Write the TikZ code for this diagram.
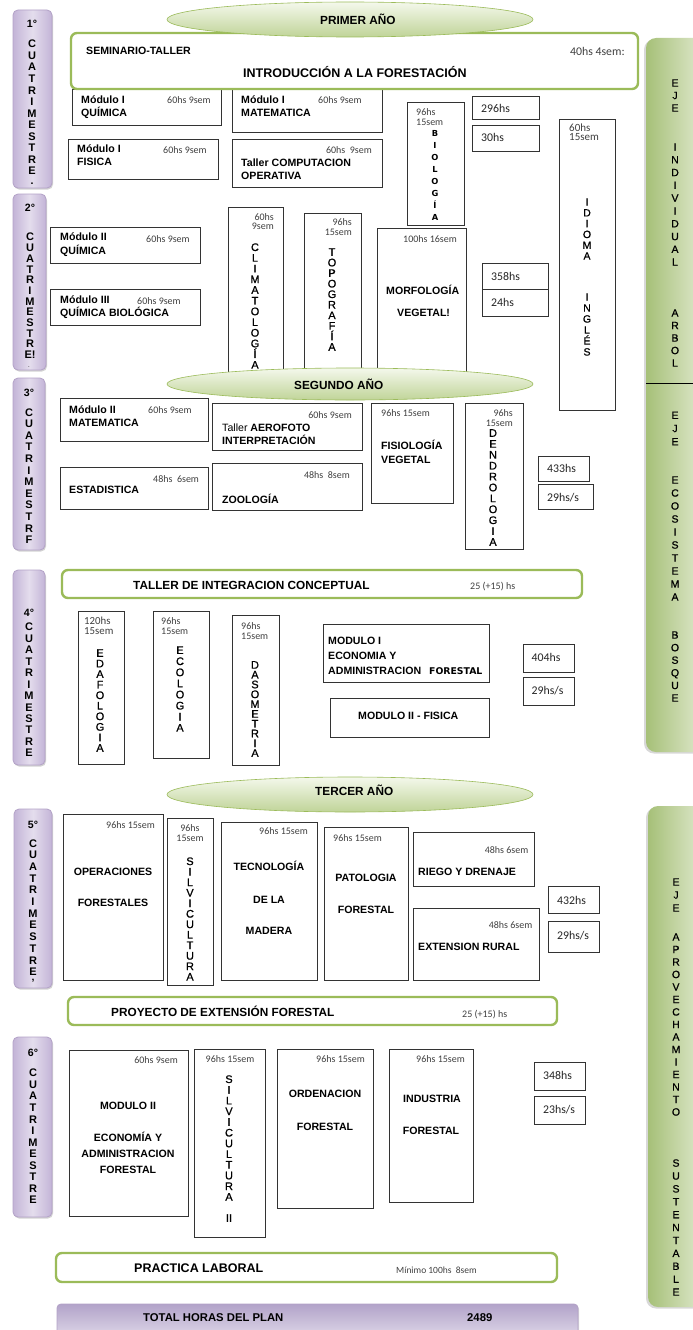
\documentclass[tikz,border=0pt]{standalone}
\usepackage{fontspec}
\setmainfont{Liberation Sans}
\newfontfamily\calfont{Carlito}
\newfontfamily\dvfont{DejaVu Sans}
\newfontfamily\medf[FakeBold=0.8]{Liberation Sans}
\usetikzlibrary{shadows}
\definecolor{boxc}{HTML}{333333}
\definecolor{grnB}{HTML}{9BBB59}
\definecolor{ellT}{HTML}{F4F8EC}
\definecolor{ellB}{HTML}{C0D498}
\definecolor{purB}{HTML}{B3A2C7}
\definecolor{purD}{HTML}{C3B4D7}
\definecolor{purL}{HTML}{E4DDED}
\definecolor{ejeD}{HTML}{A6C078}
\definecolor{ejeL}{HTML}{E6EDD7}
\definecolor{totT}{HTML}{B2A3C9}
\definecolor{totB}{HTML}{E9E4F0}
\definecolor{smc}{HTML}{404040}
\definecolor{hrc}{HTML}{262626}
\newcommand\fs[2]{\fontsize{#1}{#2}\selectfont}
\newcommand\T[5][]{\node[#1] (#2) at (#3,#4) {#5};}
\newcommand\VS[5]{\node[vs,font={#4\lineskiplimit=-30pt}] (#1) at (#2,#3) {#5};}
\newcommand\BX[5]{\draw[box] (#2,#3) rectangle (#4,#5) coordinate (#1);}
\begin{document}
\begin{tikzpicture}[x=1pt,y=-1pt,
  box/.style={draw=boxc, line width=0.8pt, fill=white},
  gbox/.style={draw=grnB, line width=2.4pt, rounded corners=6pt, fill=white},
  ell/.style={draw=grnB, line width=0.6pt, top color=ellT, bottom color=ellB},
  pbar/.style={draw=purB, line width=0.8pt, rounded corners=5pt, left color=purD, right color=purD, middle color=purL,
     drop shadow={opacity=0.35, shadow xshift=1pt, shadow yshift=-1.5pt}},
  ebar/.style={rounded corners=10pt, left color=ejeD, right color=ejeL,
     drop shadow={opacity=0.3, shadow xshift=-2pt, shadow yshift=-1.5pt}},
  lb/.style={font=\bfseries\fs{10.6}{12}, inner sep=0pt, text height=7.6pt, text depth=0pt, anchor=west},
  tt/.style={font=\bfseries\fs{11.8}{14}, inner sep=0pt, text height=8.45pt, text depth=0pt, anchor=west},
  tb/.style={font=\bfseries\fs{12.5}{14}, inner sep=0pt, text height=8.95pt, text depth=0pt, anchor=west},
  sm/.style={font=\calfont\fs{10}{12}, text=smc, inner sep=0pt, text height=6.3pt, text depth=0pt, anchor=west},
  hr/.style={font=\calfont\fs{11.8}{13}, text=hrc, inner sep=0pt, text height=7.4pt, text depth=0pt, anchor=west},
  vs/.style={align=center, inner sep=0pt, anchor=center}]
\useasboundingbox (0,0) rectangle (693,1330);
\fill[white] (0,0) rectangle (693,1330);

% ---- right axis bars
\path[ebar] (646,38) rectangle (710,752);
\draw[line width=0.8pt] (646,383) -- (693,383);
\path[ebar] (648,806) rectangle (710,1307);

% ---- left purple bars
\path[pbar] (13,10) rectangle (52,188);
\path[pbar] (13,194) rectangle (46,370);
\path[pbar] (13,378) rectangle (45,550);
\path[pbar] (13,570) rectangle (45,765);
\path[pbar] (14,809) rectangle (52,988);
\path[pbar] (13,1037) rectangle (52,1217);

% ---- total bar
\path[draw=purB, line width=0.8pt, rounded corners=4pt, top color=totT, bottom color=totB,
  drop shadow={opacity=0.3, shadow xshift=1pt, shadow yshift=-1pt}] (57,1345) rectangle (578,1304);

% ---- subject boxes
\BX{q1}{72}{89}{221}{125}
\BX{m1}{232}{89}{382}{132}
\BX{f1}{68}{139}{218}{179}
\BX{c1}{232}{139}{382}{187}
\BX{bio}{407}{102}{464}{225}
\BX{h296}{472}{96}{539}{119}
\BX{h30}{472}{125}{539}{151}
\BX{idio}{559}{119}{615}{410}
\BX{q2}{50}{227}{200}{263}
\BX{q3}{50}{289}{200}{325}
\BX{clim}{228}{207}{283}{378}
\BX{topo}{304}{213}{361}{378}
\BX{morf}{377}{228}{466}{378}
\BX{h358}{482}{263}{548}{289}
\BX{h24}{482}{289}{548}{316}
\BX{m2}{60}{398}{208}{441}
\BX{aero}{212}{403}{362}{450}
\BX{fisio}{371}{403}{453}{503}
\BX{dend}{465}{403}{523}{549}
\BX{est}{60}{467}{208}{509}
\BX{zoo}{212}{463}{362}{510}
\BX{h433}{538}{456}{589}{481}
\BX{h29a}{538}{484}{593}{509}
\BX{edaf}{78}{611}{124}{764}
\BX{ecol}{153}{611}{209}{758}
\BX{daso}{232}{615}{279}{765}
\BX{mod1}{323}{624}{489}{682}
\BX{mod2f}{330}{698}{489}{737}
\BX{h404}{523}{644}{574}{672}
\BX{h29b}{523}{677}{574}{705}
\BX{oper}{63}{814}{163}{980}
\BX{silv1}{167}{818}{213}{985}
\BX{tecn}{221}{822}{317}{980}
\BX{pato}{324}{827}{408}{980}
\BX{riego}{413}{832}{534}{886}
\BX{ext}{413}{908}{539}{980}
\BX{h432}{548}{886}{599}{913}
\BX{h29c}{548}{921}{599}{952}
\BX{mod2e}{69}{1050}{188}{1216}
\BX{silv2}{194}{1049}{265}{1237}
\BX{orden}{277}{1049}{373}{1208}
\BX{indus}{389}{1049}{473}{1202}
\BX{h348}{534}{1062}{585}{1090}
\BX{h23}{534}{1096}{585}{1124}

% ---- green boxes
\draw[gbox] (71,33) rectangle (638,89);
\draw[gbox] (62,570) rectangle (582,598);
\draw[gbox] (68,997) rectangle (557,1025);
\draw[gbox] (56,1253) rectangle (557,1282);

% ---- year ellipses
\path[ell] (350,19.5) ellipse [x radius=183pt, y radius=17.5pt];
\path[ell] (350,384) ellipse [x radius=183pt, y radius=16pt];
\path[ell] (350,794.5) ellipse [x radius=183pt, y radius=17.5pt];

% ================= TEXT =================
\T[tt]{y1}{320}{20}{PRIMER AÑO}
\T[tt]{y2}{294}{385}{SEGUNDO AÑO}
\T[tt]{y3}{315}{791}{TERCER AÑO}

% axis bars text
\VS{ejeA}{675}{95.5}{\medf\fs{10.5}{12.5}}{E\\J\\E}
\VS{ejeB}{675}{204.5}{\medf\fs{10.5}{12.8}}{I\\N\\D\\I\\V\\I\\D\\U\\A\\L}
\VS{ejeC}{675}{338}{\medf\fs{10.5}{12.5}}{A\\R\\B\\O\\L}
\VS{ejeD}{675}{428.5}{\medf\fs{10.5}{13.2}}{E\\J\\E}
\VS{ejeE}{675}{538.5}{\medf\fs{10.5}{13}}{E\\C\\O\\S\\I\\S\\T\\E\\M\\A}
\VS{ejeF}{675}{666.5}{\medf\fs{10.5}{12.6}}{B\\O\\S\\Q\\U\\E}
\VS{ejeG}{676}{895}{\medf\fs{10.5}{13}}{E\\J\\E}
\VS{ejeH}{676}{1024.5}{\medf\fs{10.5}{12.5}}{A\\P\\R\\O\\V\\E\\C\\H\\A\\M\\I\\E\\N\\T\\O}
\VS{ejeI}{676}{1227.5}{\medf\fs{10.5}{12.9}}{S\\U\\S\\T\\E\\N\\T\\A\\B\\L\\E}

% cuatrimestre bars
\T[lb,anchor=center]{n1}{32}{24}{1°}
\VS{c1s}{32}{107.5}{\bfseries\fs{11}{11.55}}{C\\U\\A\\T\\R\\I\\M\\E\\S\\T\\R\\E}
\T[lb,anchor=center]{c1d}{32}{181}{.}
\T[lb,anchor=center]{n2}{30}{208}{2°}
\VS{c2s}{30}{296}{\bfseries\fs{11}{10.7}}{C\\U\\A\\T\\R\\I\\M\\E\\S\\T\\R\\E!}
\T[lb,anchor=center,font=\fs{6}{6}]{c2d}{29}{364}{.}
\T[lb,anchor=center]{n3}{29}{393}{3°}
\VS{c3s}{29}{476}{\bfseries\fs{11}{11.6}}{C\\U\\A\\T\\R\\I\\M\\E\\S\\T\\R\\F}
\T[lb,anchor=center]{n4}{29}{613}{4°}
\VS{c4s}{29}{690}{\bfseries\fs{11}{11.45}}{C\\U\\A\\T\\R\\I\\M\\E\\S\\T\\R\\E}
\T[lb,anchor=center]{n5}{33}{825}{5°}
\VS{c5s}{33}{907.5}{\bfseries\fs{11}{11.7}}{C\\U\\A\\T\\R\\I\\M\\E\\S\\T\\R\\E}
\T[lb,anchor=center]{c5d}{33}{983}{'}
\T[lb,anchor=center]{n6}{33}{1053}{6°}
\VS{c6s}{33}{1136.5}{\bfseries\fs{11}{11.55}}{C\\U\\A\\T\\R\\I\\M\\E\\S\\T\\R\\E}

% seminario
\T[lb]{semA}{86}{51}{SEMINARIO-TALLER}
\T[hr,text=smc]{semB}{570}{52}{40hs 4sem:}
\T[tb]{semC}{243}{73}{INTRODUCCIÓN A LA FORESTACIÓN}

% row 1
\T[lb]{q1a}{81}{99.5}{Módulo I}
\T[lb]{q1b}{81}{113}{QUÍMICA}
\T[sm]{q1c}{167}{100}{60hs 9sem}
\T[lb]{m1a}{241}{99.5}{Módulo I}
\T[lb]{m1b}{241}{112.5}{MATEMATICA}
\T[sm]{m1c}{318}{100}{60hs 9sem}
\T[lb]{f1a}{77}{149}{Módulo I}
\T[lb]{f1b}{77}{162}{FISICA}
\T[sm]{f1c}{163}{150}{60hs 9sem}
\T[sm,anchor=east]{c1a}{372}{150}{60hs\ \ 9sem}
\T[lb]{c1b}{241}{163}{Taller COMPUTACION}
\T[lb]{c1c}{241}{175.5}{OPERATIVA}
\T[sm]{bioa}{416}{112}{96hs}
\T[sm]{biob}{416}{122.5}{15sem}
\VS{bios}{435}{175.5}{\dvfont\bfseries\fs{8.3}{12}}{B\\I\\O\\L\\O\\G\\Í\\A}
\T[hr]{t296}{481}{109}{296hs}
\T[hr]{t30}{481}{138}{30hs}
\T[sm,font=\calfont\fs{11}{12}]{idia}{569}{128}{60hs}
\T[sm,font=\calfont\fs{11}{12}]{idib}{569}{137.5}{15sem}
\VS{idis}{587}{229}{\medf\fs{10.5}{10.8}}{I\\D\\I\\O\\M\\A}
\VS{idit}{587}{324.5}{\medf\fs{10.5}{11}}{I\\N\\G\\L\\É\\S}

% row 2
\T[lb]{q2a}{60}{237}{Módulo II}
\T[lb]{q2b}{60}{250.5}{QUÍMICA}
\T[sm]{q2c}{146}{239}{60hs 9sem}
\T[lb]{q3a}{60}{300}{Módulo III}
\T[lb]{q3b}{60}{312.5}{QUÍMICA BIOLÓGICA}
\T[sm]{q3c}{137}{301}{60hs 9sem}
\T[sm,anchor=east]{clia}{274}{217}{60hs}
\T[sm,anchor=east]{clib}{274}{226}{9sem}
\VS{clis}{255}{306}{\medf\fs{11}{10.7}}{C\\L\\I\\M\\A\\T\\O\\L\\O\\G\\Í\\A}
\T[sm,anchor=east]{topa}{352}{222}{96hs}
\T[sm,anchor=east]{topb}{352}{232}{15sem}
\VS{tops}{332}{299.5}{\medf\fs{11}{10.55}}{T\\O\\P\\O\\G\\R\\A\\F\\Í\\A}
\T[sm]{mora}{403}{239.5}{100hs 16sem}
\T[lb]{morb}{386}{291}{MORFOLOGÍA}
\T[lb]{morc}{397}{312.5}{VEGETAL!}
\T[hr]{t358}{491}{277}{358hs}
\T[hr]{t24}{491}{303}{24hs}

% row 3
\T[lb]{m2a}{69}{409.5}{Módulo II}
\T[lb]{m2b}{69}{422.5}{MATEMATICA}
\T[sm]{m2c}{148}{410.5}{60hs 9sem}
\T[sm,anchor=east]{aera}{352}{415}{60hs 9sem}
\T[lb]{aerb}{222}{427.5}{\mdseries Taller \bfseries AEROFOTO}
\T[lb]{aerc}{222}{440.5}{INTERPRETACIÓN}
\T[sm]{fisa}{381}{413.5}{96hs 15sem}
\T[lb]{fisb}{381}{446}{FISIOLOGÍA}
\T[lb]{fisc}{381}{459.5}{VEGETAL}
\T[sm,anchor=east]{dena}{513}{413.5}{96hs}
\T[sm,anchor=east]{denb}{513}{423.5}{15sem}
\VS{dens}{493}{487.5}{\medf\fs{11}{10.9}}{D\\E\\N\\D\\R\\O\\L\\O\\G\\I\\A}
\T[sm]{esta}{153}{479}{48hs\ \ 6sem}
\T[lb]{estb}{69}{490}{ESTADISTICA}
\T[sm,anchor=east]{zooa}{350}{475}{48hs\ \ 8sem}
\T[lb]{zoob}{222}{500}{ZOOLOGÍA}
\T[hr]{t433}{547}{469}{433hs}
\T[hr]{t29a}{547}{497.5}{29hs/s}

% row 4
\T[tt]{tica}{133}{585.5}{TALLER DE INTEGRACION CONCEPTUAL}
\T[sm]{ticb}{470}{586.5}{25 (+15) hs}
\T[sm,font=\calfont\fs{10.8}{12}]{edaa}{84}{621.5}{120hs}
\T[sm,font=\calfont\fs{10.8}{12}]{edab}{84}{631.5}{15sem}
\VS{edas}{100}{700.5}{\medf\fs{11}{10.55}}{E\\D\\A\\F\\O\\L\\O\\G\\I\\A}
\T[sm]{ecoa}{161}{621}{96hs}
\T[sm]{ecob}{161}{631.5}{15sem}
\VS{ecos}{180}{689}{\medf\fs{11}{11.1}}{E\\C\\O\\L\\O\\G\\I\\A}
\T[sm]{dasa}{241}{626}{96hs}
\T[sm]{dasb}{241}{636}{15sem}
\VS{dass}{255}{709}{\medf\fs{11}{9.8}}{D\\A\\S\\O\\M\\E\\T\\R\\I\\A}
\T[lb]{moda}{328}{641}{MODULO I}
\T[lb]{modb}{328}{656}{ECONOMIA Y}
\T[lb]{modc}{328}{671}{ADMINISTRACION}
\T[lb,font=\dvfont\bfseries\fs{9.3}{10},text height=6.8pt]{modd}{429}{671}{FORESTAL}
\T[lb]{mfis}{358}{716}{MODULO II - FISICA}
\T[hr]{t404}{531.5}{658}{404hs}
\T[hr]{t29b}{531.5}{690.5}{29hs/s}

% row 5
\T[sm]{opea}{106}{825}{96hs 15sem}
\T[lb,anchor=center]{opeb}{113}{871.5}{OPERACIONES}
\T[lb,anchor=center]{opec}{113}{903}{FORESTALES}
\T[sm,anchor=center]{sila}{190}{828}{96hs}
\T[sm,anchor=center]{silb}{190}{838}{15sem}
\VS{sils}{190}{919}{\medf\fs{11}{10.5}}{S\\I\\L\\V\\I\\C\\U\\L\\T\\U\\R\\A}
\T[sm]{teca}{259}{831}{96hs 15sem}
\T[lb,anchor=center]{tecb}{269}{867}{TECNOLOGÍA}
\T[lb,anchor=center]{tecc}{269}{899.5}{DE LA}
\T[lb,anchor=center]{tecd}{269}{931}{MADERA}
\T[sm]{pata}{333}{838}{96hs 15sem}
\T[lb,anchor=center]{patb}{366}{878}{PATOLOGIA}
\T[lb,anchor=center]{patc}{366}{910}{FORESTAL}
\T[sm,anchor=east]{riea}{528.5}{850}{48hs 6sem}
\T[lb]{rieb}{418}{872}{RIEGO Y DRENAJE}
\T[sm,anchor=east]{exta}{532.5}{925}{48hs 6sem}
\T[lb]{extb}{418}{947}{EXTENSION RURAL}
\T[hr]{t432}{557}{900.5}{432hs}
\T[hr]{t29c}{557}{935.5}{29hs/s}
\T[tt]{pefa}{111}{1012}{PROYECTO DE EXTENSIÓN FORESTAL}
\T[sm]{pefb}{462}{1014}{25 (+15) hs}

% row 6
\T[sm,anchor=east]{eca}{178}{1060}{60hs 9sem}
\T[lb,anchor=center]{ecb}{128}{1106}{MODULO II}
\T[lb,anchor=center]{ecc}{128}{1138}{ECONOMÍA Y}
\T[lb,anchor=center]{ecd}{128}{1154}{ADMINISTRACION}
\T[lb,anchor=center]{ece}{128}{1170}{FORESTAL}
\T[sm,anchor=center]{s2a}{230}{1059.5}{96hs 15sem}
\VS{s2s}{229}{1138}{\medf\fs{11}{10.7}}{S\\I\\L\\V\\I\\C\\U\\L\\T\\U\\R\\A}
\T[lb,anchor=center,font=\medf\fs{11}{12}]{s2b}{229}{1218}{II}
\T[sm]{orda}{316}{1059.5}{96hs 15sem}
\T[lb,anchor=center]{ordb}{325}{1094}{ORDENACION}
\T[lb,anchor=center]{ordc}{325}{1127}{FORESTAL}
\T[sm]{inda}{416}{1059.5}{96hs 15sem}
\T[lb,anchor=center]{indb}{432}{1099}{INDUSTRIA}
\T[lb,anchor=center]{indc}{431}{1131}{FORESTAL}
\T[hr]{t348}{543}{1075.5}{348hs}
\T[hr]{t23}{543}{1110}{23hs/s}
\T[tb]{pla}{134}{1268}{PRACTICA LABORAL}
\T[sm,font=\calfont\fs{9.5}{12}]{plb}{396}{1270}{Mínimo 100hs\ \ 8sem}
\T[tt,font=\bfseries\fs{11.3}{13}]{tota}{143}{1317.5}{TOTAL HORAS DEL PLAN}
\T[tt,font=\bfseries\fs{11.3}{13}]{totb}{467}{1317.5}{2489}
\end{tikzpicture}
\end{document}
